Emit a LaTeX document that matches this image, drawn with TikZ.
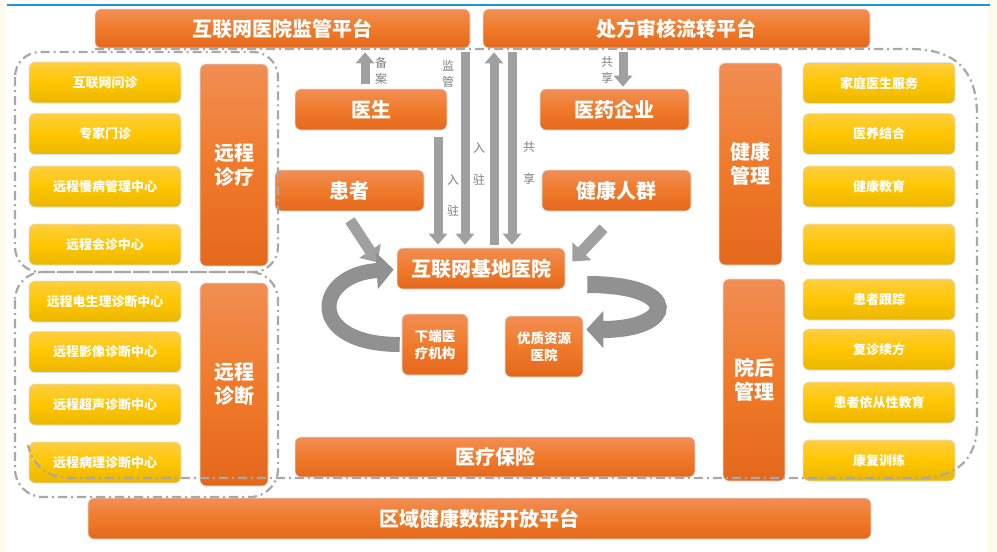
\documentclass[tikz,border=0pt]{standalone}
\usepackage{fontspec}
\newfontfamily\cjk{Noto Sans CJK SC}
\usetikzlibrary{arrows.meta,calc}
\definecolor{orTop}{RGB}{241,142,84}
\definecolor{orMid}{RGB}{240,122,42}
\definecolor{orBot}{RGB}{228,104,28}
\definecolor{yeTop}{RGB}{255,206,64}
\definecolor{yeMid}{RGB}{255,198,0}
\definecolor{yeBot}{RGB}{234,182,0}
\definecolor{agray}{RGB}{160,160,160}
\definecolor{rgray}{RGB}{145,145,145}
\definecolor{lgray}{RGB}{128,128,128}
\definecolor{dgray}{RGB}{168,168,168}
\definecolor{blueline}{RGB}{20,152,218}
\definecolor{cream}{RGB}{255,250,238}
\begin{document}
\begin{tikzpicture}[x=1pt,y=-1pt,
  obox/.style={rounded corners=6pt, top color=orTop, bottom color=orBot, middle color=orMid,
    draw=black!12, line width=0.6pt, inner sep=0pt, text=white, align=center,
    font=\cjk\bfseries\fontsize{20}{24}\selectfont},
  osmall/.style={obox, font=\cjk\bfseries\fontsize{13.5}{17}\selectfont},
  ybox/.style={rounded corners=6pt, top color=yeTop, bottom color=yeBot, middle color=yeMid,
    draw=black!12, line width=0.6pt, inner sep=0pt, text=white, align=center,
    minimum width=152pt, minimum height=41pt,
    font=\cjk\bfseries\fontsize{13}{16}\selectfont},
  lab/.style={text=lgray, inner sep=0pt, align=center, font=\cjk\fontsize{12}{16}\selectfont},
  barr/.style={draw=agray, line width=9pt, -{Triangle[length=11pt,width=18pt]}},
  darr/.style={draw=agray, line width=11pt, -{Triangle[length=14pt,width=25pt]}},
  rarr/.style={draw=rgray, line width=15pt, -{Triangle[length=17pt,width=36pt]}},
  dline/.style={draw=dgray, line width=2.2pt, dash pattern=on 9pt off 4pt on 2pt off 4pt}
]
\useasboundingbox (0,0) rectangle (997,552);
\fill[white] (0,0) rectangle (997,552);
\fill[cream] (0,0) rectangle (5,552);
\fill[cream] (988,0) rectangle (997,552);
\draw[blueline, line width=2pt] (7,5) -- (990,5);

% top platforms
\node[obox, minimum width=375pt, minimum height=39pt] (top1) at (282.5,28.5) {互联网医院监管平台};
\node[obox, minimum width=387pt, minimum height=39pt] (top2) at (676.5,28.5) {处方审核流转平台};

% left yellow boxes
\node[ybox] (y1) at (105,82.5) {互联网问诊};
\node[ybox] (y2) at (105,134) {专家门诊};
\node[ybox] (y3) at (105,186.5) {远程慢病管理中心};
\node[ybox] (y4) at (105,244.5) {远程会诊中心};
\node[ybox] (y5) at (105,301.5) {远程电生理诊断中心};
\node[ybox] (y6) at (105,352) {远程影像诊断中心};
\node[ybox] (y7) at (105,404.5) {远程超声诊断中心};
\node[ybox] (y8) at (105,462.5) {远程病理诊断中心};

\node[obox, minimum width=68pt, minimum height=202pt] (zl) at (234,165) {远程\\诊疗};
\node[obox, minimum width=68pt, minimum height=203pt] (zd) at (234,384.5) {远程\\诊断};

% center
\node[obox, minimum width=152pt, minimum height=41pt] (doc) at (371,109.5) {医生};
\node[obox, minimum width=149pt, minimum height=41pt] (pat) at (349.5,190.5) {患者};
\node[obox, minimum width=149pt, minimum height=41pt] (pharm) at (614.5,109.5) {医药企业};
\node[obox, minimum width=149pt, minimum height=41pt] (crowd) at (616.5,190.5) {健康人群};
\node[obox, minimum width=168pt, minimum height=41pt] (base) at (481,268.5) {互联网基地医院};
\node[osmall, minimum width=66pt, minimum height=61pt] (xia) at (435,344.5) {下端医\\疗机构};
\node[osmall, minimum width=78pt, minimum height=61pt] (you) at (544,346.5) {优质资源\\医院};
\node[obox, minimum width=400pt, minimum height=40pt] (ins) at (495,457) {医疗保险};
\node[obox, minimum width=783pt, minimum height=41pt] (region) at (479.5,518.5) {区域健康数据开放平台};

% right
\node[obox, minimum width=63pt, minimum height=202pt] (jk) at (750.5,164) {健康\\管理};
\node[obox, minimum width=62pt, minimum height=202pt] (yh) at (754,380) {院后\\管理};
\node[ybox] (r1) at (879,83) {家庭医生服务};
\node[ybox] (r2) at (879,134) {医养结合};
\node[ybox] (r3) at (879,186.5) {健康教育};
\node[ybox] (r4) at (879,244.5) {};
\node[ybox] (r5) at (879,299.5) {患者跟踪};
\node[ybox] (r6) at (879,349.5) {复诊续方};
\node[ybox] (r7) at (879,402.5) {患者依从性教育};
\node[ybox] (r8) at (879,460.5) {康复训练};

% dashed outlines
\draw[dline] (15,52) [rounded corners=25pt] rectangle (278,272);
\draw[dline] (15,272) [rounded corners=28pt] rectangle (278,497);
\draw[dline] (95,49) -- (910,49) .. controls (955,49) and (977,70) .. (977,115)
  -- (977,425) .. controls (977,460) and (955,478) .. (920,478) -- (70,478)
  .. controls (48,478) and (32,465) .. (28,445);

% vertical arrows
\coordinate (a1) at ($(doc.north)+(-6,-5)$);
\draw[barr] (a1) -- ($(a1 |- top1.south)+(0,4)$);
\coordinate (a2) at ($(top1.south)+(182.5,4)$);
\draw[barr] (a2) -- ($(a2 |- base.north)+(0,-3)$);
\coordinate (a3) at ($(doc.south)+(67,7)$);
\draw[barr] (a3) -- ($(a3 |- base.north)+(0,-3)$);
\coordinate (a4) at ($(base.north)+(13,-3)$);
\draw[barr] (a4) -- ($(a4 |- top2.south)+(0,4)$);
\coordinate (a5) at ($(top2.south)+(-164.5,4)$);
\draw[barr] (a5) -- ($(a5 |- base.north)+(0,-3)$);
\coordinate (a6) at ($(top2.south)+(-53.5,4)$);
\draw[barr] (a6) -- ($(a6 |- pharm.north)+(0,-2)$);

% labels
\node[lab] (lb1) at (381,71) {备\\案};
\node[lab] (lb2) at (448,74) {监\\管};
\node[lab] (lb3a) at (453,180) {入};
\node[lab] (lb3b) at (453,211) {驻};
\node[lab] (lb4a) at (479,148) {入};
\node[lab] (lb4b) at (479,180) {驻};
\node[lab] (lb5a) at (529,147) {共};
\node[lab] (lb5b) at (529,179) {享};
\node[lab] (lb6) at (607,70) {共\\享};

% diagonal arrows
\coordinate (p1) at ($(pat.south)+(0.5,9)$);
\coordinate (p2) at ($(base.west)+(-19,-6)$);
\draw[darr] (p1) -- (p2);
\coordinate (c1) at ($(crowd.south)+(-13,17)$);
\coordinate (c2) at ($(base.east)+(7,-7)$);
\draw[darr] (c1) -- (c2);

% curved arrows
\coordinate (l1) at ($(xia.west)+(-2,0)$);
\coordinate (l2) at ($(base.west)+(-3,1)$);
\draw[rarr] (l1) .. controls +(-95,0) and +(-80,5) .. (l2);
\coordinate (q1) at ($(base.east)+(22,16)$);
\coordinate (q2) at ($(you.east)+(3,-17)$);
\draw[rarr, line width=17pt] (q1) .. controls +(95,0) and +(90,0) .. (q2);
\end{tikzpicture}
\end{document}
